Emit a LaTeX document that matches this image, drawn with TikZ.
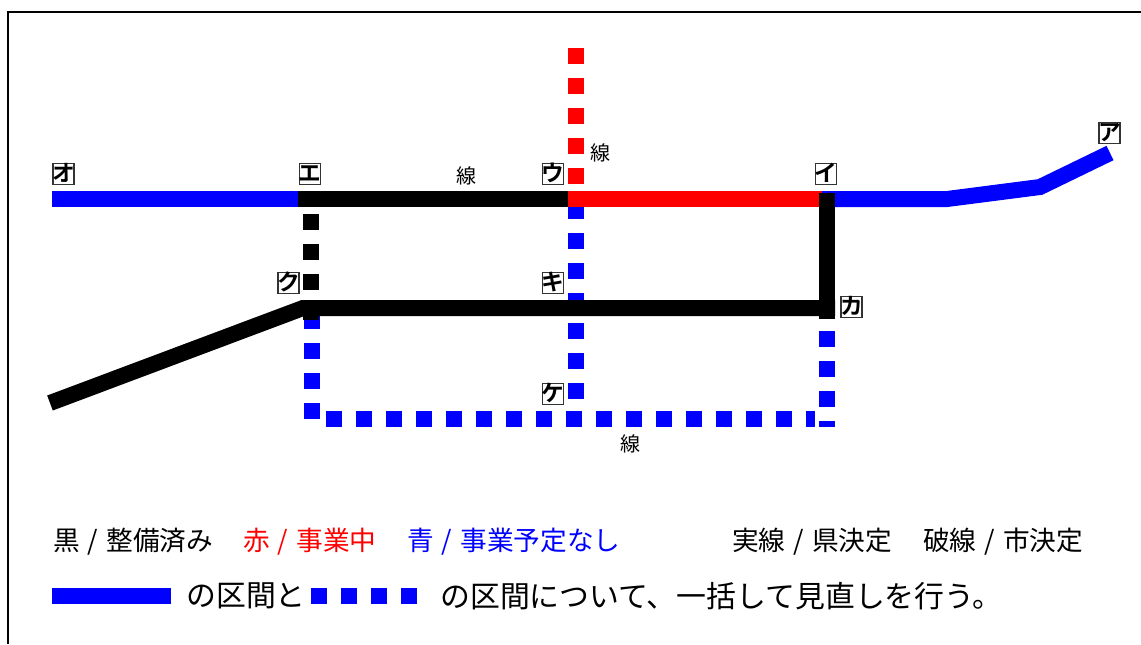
\documentclass[tikz,border=0pt]{standalone}
\usepackage{fontspec}
\usepackage{xcolor}
\setmainfont{Noto Sans CJK JP}
\newfontfamily\katafont{Noto Sans CJK JP Bold}
\usetikzlibrary{positioning}

\begin{document}
\begin{tikzpicture}[x=0.75pt,y=-0.75pt]
		\newcommand*{\lw}{12pt}
		\newcommand*{\sla}{\hspace{0.3em}/\hspace{0.3em}}
		\tikzset{
			solidline/.style={line width=\lw, line cap=butt, line join=miter},
			dashline/.style={solidline, dash pattern=on 12pt off 10.5pt},
			kata/.style={draw=black!80, line width=1.2pt, fill=white, inner ysep=0pt, inner xsep=-2pt, minimum size=15.5pt, font=\katafont\fontsize{17}{17}\selectfont, text height=11.5pt, text depth=1pt},
			sen/.style={inner sep=0pt, font=\fontsize{15}{15}\selectfont},
			legend/.style={anchor=west, inner sep=0pt, font=\fontsize{20}{22}\selectfont},
			note/.style={anchor=west, inner sep=0pt, font=\fontsize{22.4}{24}\selectfont},
		}
		\useasboundingbox (0,0) rectangle (1141,644);
		\fill[white] (0,0) rectangle (1141,644);
		\draw[line width=1.5pt] (7.5,644) -- (7.5,12) -- (1141,12);

		% junctions
		\coordinate (o) at (52,199);
		\coordinate (e) at (298,199);
		\coordinate (u) at (568,199);
		\coordinate (i) at (822,199);
		\coordinate (a1) at (947,199);
		\coordinate (a2) at (1040,187);
		\coordinate (a) at (1110,153);
		\coordinate (k) at (303,308);
		\coordinate (ka) at (835,308);
		\coordinate (kd) at (50,403);

		% dashed lines
		\draw[dashline, blue] (312,313) -- (312,419);
		\draw[dashline, blue] (326,419) -- (815,419);
		\draw[dashline, blue] (576,203) -- (576,400);
		\draw[dashline, blue] (827,331) -- (827,427);
		\draw[dashline, red] (576,48) -- (576,184);
		% solid lines
		\draw[solidline, blue] (o) -- (e);
		\draw[solidline] (e) -- (u);
		\draw[solidline, blue] (i) -- (a1) -- (a2) -- (a);
		\draw[solidline, red] (u) -- (i);
		\draw[solidline] (kd) -- (k) -- (ka);
		\draw[solidline] (827,193) -- (827,319);
		\draw[dashline] (311,214) -- (311,321);

		\node[kata] (kO) at (63.5,174) {オ};
		\node[kata] (kE) at (310,174) {エ};
		\node[kata] (kU) at (553,174) {ウ};
		\node[kata] (kI) at (826,174) {イ};
		\node[kata] (kA) at (1109.5,133) {ア};
		\node[kata] (kK) at (288.5,283) {ク};
		\node[kata] (kKi) at (553,283) {キ};
		\node[kata] (kKa) at (851.5,307) {カ};
		\node[kata] (kKe) at (553,394) {ケ};

		\node[sen] (sen1) at (466,176) {線};
		\node[sen] (sen2) at (600,153) {線};
		\node[sen] (sen3) at (630,444) {線};

		\node[legend] (black) at (53,541.5) {黒\sla 整備済み};
		\node[legend, red] (redtext) at (243,541.5) {赤\sla 事業中};
		\node[legend, blue] (bluetext) at (407,541.5) {青\sla 事業予定なし};
		\node[legend] (solid) at (732,541.5) {実線\sla 県決定};
		\node[legend] (broken) at (923,541.5) {破線\sla 市決定};

		\coordinate (s1) at (52,596);
		\coordinate (s2) at (171,596);
		\coordinate (d1) at (311,596);
		\coordinate (d2) at (417,596);
		\draw[solidline, blue] (s1) -- (s2);
		\node[note] (note1) at (186,596) {の区間と};
		\draw[dashline, blue] (d1) -- (d2);
		\node[note] (note2) at (440,596) {の区間について、一括して見直しを行う。};
	\end{tikzpicture}
\end{document}
